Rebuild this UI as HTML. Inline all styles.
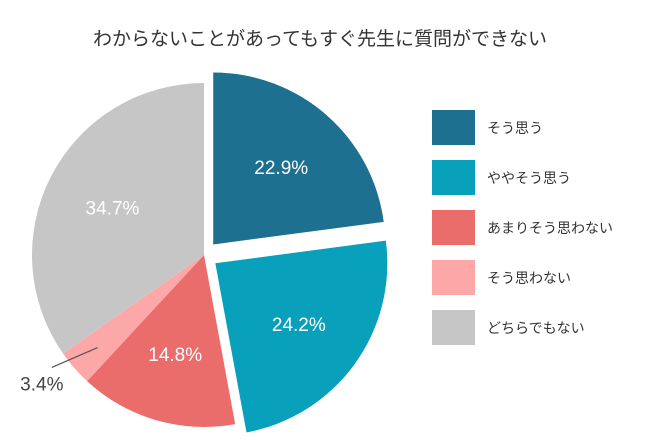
<!DOCTYPE html>
<html><head><meta charset="utf-8"><style>
body{margin:0;background:#fff;}
svg{display:block;font-family:"Liberation Sans","Noto Sans CJK JP",sans-serif;}
</style></head><body>
<svg width="660" height="440" viewBox="0 0 660 440">
<text x="320" y="45" text-anchor="middle" font-size="19" fill="#333">わからないことがあってもすぐ先生に質問ができない</text>
<g id="pie"></g>
<g id="legend"></g>
</svg>
<script>
const categories=["そう思う","ややそう思う","あまりそう思わない","そう思わない","どちらでもない"];
const values=[22.9,24.2,14.8,3.4,34.7];
const labels=["22.9%","24.2%","14.8%","3.4%","34.7%"];
const colors=["#1e7090","#09a0bb","#eb6d6b","#fda8a8","#c6c6c6"];
const explode=[14,14,0,0,0];
const NS="http://www.w3.org/2000/svg";
const cx=204,cy=255,r=172;
const pie=document.getElementById('pie'),leg=document.getElementById('legend');
const total=values.reduce((a,b)=>a+b,0);
function pt(x,y,rad,a){return [x+rad*Math.sin(a),y-rad*Math.cos(a)];}
let acc=0;
values.forEach((v,i)=>{
  const a0=acc/total*2*Math.PI;acc+=v;const a1=acc/total*2*Math.PI;const am=(a0+a1)/2;
  const [ox,oy]=pt(cx,cy,explode[i],am);
  const p0=pt(ox,oy,r,a0),p1=pt(ox,oy,r,a1);
  const path=document.createElementNS(NS,'path');
  path.setAttribute('d',`M${ox},${oy}L${p0[0]},${p0[1]}A${r},${r} 0 ${a1-a0>Math.PI?1:0} 1 ${p1[0]},${p1[1]}Z`);
  path.setAttribute('fill',colors[i]);
  
  
  pie.appendChild(path);
  const t=document.createElementNS(NS,'text');
  if(v<5){
    const e=pt(ox,oy,r*0.82,am),f=pt(ox,oy,r*1.1,am+0.08);
    const ln=document.createElementNS(NS,'line');
    ln.setAttribute('x1',e[0]);ln.setAttribute('y1',e[1]);ln.setAttribute('x2',f[0]);ln.setAttribute('y2',f[1]);
    ln.setAttribute('stroke','#555');ln.setAttribute('stroke-width','1.2');
    
    
    pie.appendChild(ln);
    t.setAttribute('x',f[0]-10);t.setAttribute('y',f[1]+23);t.setAttribute('fill','#444');
  } else {
    const l=pt(ox,oy,r*0.6,am);
    t.setAttribute('x',l[0]);t.setAttribute('y',l[1]+7);t.setAttribute('fill','#fff');
  }
  t.setAttribute('text-anchor','middle');t.setAttribute('font-size','19');
  t.textContent=labels[i];
  
  
  pie.appendChild(t);
  const y=110+i*50;
  const rc=document.createElementNS(NS,'rect');
  rc.setAttribute('x',432);rc.setAttribute('y',y);rc.setAttribute('width',43);rc.setAttribute('height',35);rc.setAttribute('fill',colors[i]);
  
  
  leg.appendChild(rc);
  const lt=document.createElementNS(NS,'text');
  lt.setAttribute('x',487);lt.setAttribute('y',y+23);lt.setAttribute('font-size','14');lt.setAttribute('fill','#333');
  lt.textContent=categories[i];
  
  
  leg.appendChild(lt);
});
</script>
</body></html>
